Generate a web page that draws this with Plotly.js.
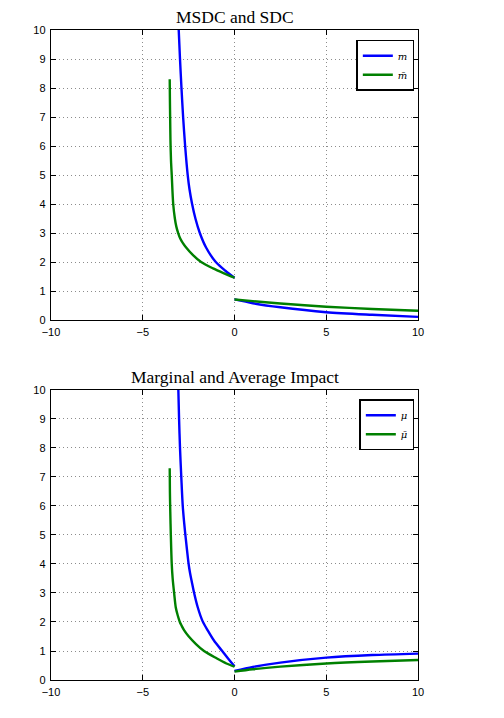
<!DOCTYPE html>
<html>
<head>
<meta charset="utf-8">
<script src="https://cdn.plot.ly/plotly-3.0.1.min.js"></script>
<style>html,body{margin:0;padding:0;background:#fff;}#chart{width:504px;height:718px;}</style>
</head>
<body>
<div id="chart"></div>
<script>
// ---- Top panel: MSDC (m) and SDC (m-bar)
var mLeftX   = [-3.04, -2.97, -2.89, -2.80, -2.69, -2.55, -2.45, -2.31, -2.13, -1.89, -1.55, -1.02, -0.5, 0];
var mLeftY   = [10, 9, 8, 7, 6, 5, 4.5, 4, 3.5, 3, 2.5, 2.0, 1.7, 1.46];
var mRightX  = [0, 1, 2.5, 5, 7.5, 10];
var mRightY  = [0.71, 0.58, 0.44, 0.27, 0.18, 0.11];
var mbLeftX  = [-3.53, -3.52, -3.505, -3.49, -3.46, -3.42, -3.34, -3.25, -3.17, -3.07, -2.95, -2.82, -2.67, -2.26, -1.82, -1.17, -0.57, 0];
var mbLeftY  = [8.3, 7.6, 6.9, 6.2, 5.5, 5, 4, 3.5, 3.22, 3, 2.8, 2.66, 2.53, 2.24, 2.0, 1.78, 1.61, 1.46];
var mbRightX = [0, 1, 2.5, 5, 7.5, 10];
var mbRightY = [0.71, 0.65, 0.57, 0.46, 0.38, 0.32];

// ---- Bottom panel: Marginal (mu) and Average (mu-bar) impact
var muLeftX   = [-3.06, -3.02, -2.97, -2.90, -2.82, -2.74, -2.66, -2.50, -2.42, -2.33, -2.20, -2.00, -1.74, -1.45, -1.12, -0.67, -0.35, 0];
var muLeftY   = [10, 9, 8, 7, 6, 5.4, 4.9, 4, 3.68, 3.4, 3.0, 2.5, 2.03, 1.70, 1.36, 1.0, 0.74, 0.47];
var muRightX  = [0, 1, 2.5, 5, 7.5, 10];
var muRightY  = [0.31, 0.45, 0.60, 0.77, 0.86, 0.91];
var mubLeftX  = [-3.53, -3.52, -3.50, -3.47, -3.42, -3.37, -3.29, -3.20, -3.10, -2.98, -2.88, -2.75, -2.49, -2.10, -1.66, -0.98, -0.44, 0];
var mubLeftY  = [7.3, 6.5, 5.8, 5, 4, 3.5, 3, 2.5, 2.24, 2, 1.87, 1.72, 1.5, 1.24, 1.0, 0.75, 0.57, 0.46];
var mubRightX = [0, 1, 2.5, 5, 7.5, 10];
var mubRightY = [0.29, 0.37, 0.46, 0.57, 0.64, 0.69];

var xTicks = [-10, -5, 0, 5, 10];
var xTickText = ['\u221210', '\u22125', '0', '5', '10'];
var yTicks = [0, 1, 2, 3, 4, 5, 6, 7, 8, 9, 10];

var titles = ['MSDC and SDC', 'Marginal and Average Impact'];
var names = ['<i>m</i>', '<i>m\u0304</i>', '<i>\u03bc</i>', '<i>\u03bc\u0304</i>'];

var BLUE = '#0000ff', GREEN = '#008000';

function line(x, y, color, name, xa, ya, leg, show, group) {
  return {
    x: x, y: y, type: 'scatter', mode: 'lines',
    line: {color: color, width: 2.4, shape: 'spline', smoothing: 0.8},
    name: name, xaxis: xa, yaxis: ya, legend: leg,
    showlegend: show, legendgroup: group, hoverinfo: 'skip', cliponaxis: true
  };
}

var data = [
  line(mLeftX, mLeftY, BLUE, names[0], 'x', 'y', 'legend', true, 'm'),
  line(mbLeftX, mbLeftY, GREEN, names[1], 'x', 'y', 'legend', true, 'mb'),
  line(mRightX, mRightY, BLUE, names[0], 'x', 'y', 'legend', false, 'm'),
  line(mbRightX, mbRightY, GREEN, names[1], 'x', 'y', 'legend', false, 'mb'),
  line(muLeftX, muLeftY, BLUE, names[2], 'x2', 'y2', 'legend2', true, 'mu'),
  line(mubLeftX, mubLeftY, GREEN, names[3], 'x2', 'y2', 'legend2', true, 'mub'),
  line(muRightX, muRightY, BLUE, names[2], 'x2', 'y2', 'legend2', false, 'mu'),
  line(mubRightX, mubRightY, GREEN, names[3], 'x2', 'y2', 'legend2', false, 'mub')
];

var axFont = {family: 'Liberation Sans, Arial, sans-serif', size: 11, color: '#000'};

function xAxis(anchor) {
  return {
    anchor: anchor, range: [-10, 10], tickvals: xTicks, ticktext: xTickText,
    showline: true, linecolor: '#000', linewidth: 1.2, mirror: 'allticks',
    ticks: 'inside', ticklen: 5, tickcolor: '#000',
    showgrid: true, gridcolor: '#8c8c8c', griddash: '1px,3px', gridwidth: 1,
    zeroline: false, tickfont: axFont, fixedrange: true, ticklabelstandoff: 2
  };
}
function yAxis(anchor, domain) {
  return {
    anchor: anchor, domain: domain, range: [0, 10], tickvals: yTicks,
    showline: true, linecolor: '#000', linewidth: 1.2, mirror: 'allticks',
    ticks: 'inside', ticklen: 5, tickcolor: '#000',
    showgrid: true, gridcolor: '#8c8c8c', griddash: '1px,3px', gridwidth: 1,
    zeroline: false, tickfont: axFont, fixedrange: true, ticklabelstandoff: 2
  };
}

var legStyle = {
  xanchor: 'right', yanchor: 'top',
  bgcolor: '#fff', bordercolor: '#000', borderwidth: 1.5,
  font: {family: 'DejaVu Serif, serif', size: 10, color: '#000'},
  tracegroupgap: 0, itemwidth: 30
};

var layout = {
  width: 504, height: 718,
  margin: {l: 51, r: 86, t: 30, b: 38},
  paper_bgcolor: '#fff', plot_bgcolor: '#fff',
  showlegend: true,
  xaxis: xAxis('y'),
  yaxis: yAxis('x', [0.5538, 1]),
  xaxis2: xAxis('y2'),
  yaxis2: yAxis('x2', [0, 0.4462]),
  legend: Object.assign({x: 0.99, y: 0.985}, legStyle),
  legend2: Object.assign({x: 0.99, y: 0.432}, legStyle),
  annotations: [
    {text: titles[0], xref: 'paper', yref: 'paper', x: 0.5, y: 1.0, yshift: 1,
     xanchor: 'center', yanchor: 'bottom', showarrow: false,
     font: {family: 'Liberation Serif, DejaVu Serif, serif', size: 17.5, color: '#000'}},
    {text: titles[1], xref: 'paper', yref: 'paper', x: 0.5, y: 0.4462, yshift: 1,
     xanchor: 'center', yanchor: 'bottom', showarrow: false,
     font: {family: 'Liberation Serif, DejaVu Serif, serif', size: 17.5, color: '#000'}}
  ]
};

Plotly.newPlot('chart', data, layout, {displayModeBar: false, staticPlot: true});
</script>
</body>
</html>
